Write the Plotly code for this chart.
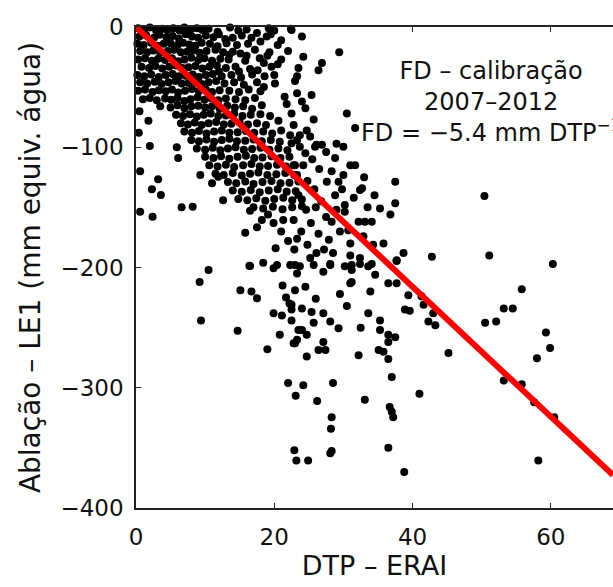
import plotly.graph_objects as go

# ---------------- data ----------------
# dense upper-left cluster (DTP, ablation)
cluster_top = [
    (0.3,-1),(1.2,-2),(2.0,-0.5),(2.9,-3),(3.8,-1.5),(4.5,-2.5),(5.4,-1),(6.3,-3),(7.0,-0.5),(7.9,-2),(8.8,-1),(9.6,-2.5),(10.5,-1.5),(13.6,-0.5),(16.0,-2),(19.2,-1),(20.0,-3),(22.4,-1.5),
    (0.5,-8),(1.5,-7),(2.6,-9),(3.4,-6.5),(4.4,-8.5),(5.3,-7.5),(6.2,-9.5),(7.2,-6),(8.1,-8),(9.0,-9),(10.1,-7),(11.2,-8.5),(12.0,-6),(14.0,-9),(15.3,-7),
    (0.2,-14),(1.1,-15),(2.2,-13),(3.1,-15.5),(4.0,-14),(5.0,-13.5),(6.0,-15),(6.8,-13),(7.7,-14.5),(8.6,-15.5),(9.5,-13),(10.7,-14),(11.8,-16),(13.1,-13.5),(14.6,-15),(16.2,-14),(18.0,-12),(20.5,-15),
    (0.6,-20),(1.6,-21),(2.5,-19.5),(3.5,-21.5),(4.6,-20),(5.5,-19),(6.5,-21),(7.4,-20.5),(8.3,-19.5),(9.2,-21.5),(10.2,-20),(11.5,-19),(12.6,-21),(14.0,-20.5),(15.1,-22),(17.2,-19),(19.3,-21),
    (0.3,-27),(1.3,-26),(2.3,-28),(3.2,-26.5),(4.2,-27.5),(5.2,-26),(6.1,-28.5),(7.0,-27),(8.0,-25.5),(9.0,-27.5),(9.9,-26),(11.0,-28),(12.2,-26.5),(13.4,-27),(15.8,-28),(17.9,-26),(21.0,-27),
    (0.8,-33),(1.9,-34),(2.8,-32.5),(3.8,-34.5),(4.8,-33),(5.8,-32),(6.7,-34),(7.6,-33.5),(8.6,-32.5),(9.6,-34.5),(10.6,-33),(11.7,-32),(13.0,-34),(14.4,-33),(16.5,-35),(19.6,-33),
    (0.2,-40),(1.2,-41),(2.2,-39.5),(3.3,-41.5),(4.3,-40),(5.3,-39),(6.2,-41),(7.2,-40.5),(8.2,-39.5),(9.1,-41.5),(10.1,-40),(11.1,-39),(12.4,-41),(13.8,-40),(15.2,-42),(16.8,-39.5),(18.6,-41),
    (0.6,-46),(1.6,-47),(2.7,-45.5),(3.7,-47.5),(4.7,-46),(5.7,-45),(6.6,-47),(7.6,-46.5),(8.6,-45.5),(9.5,-47.5),(10.5,-46),(11.6,-45),(12.8,-47),(14.2,-46),(15.6,-48),(17.5,-46),(20.1,-47),
    (0.3,-53),(1.3,-52),(2.4,-54),(3.3,-52.5),(4.3,-53.5),(5.2,-52),(6.1,-54.5),(7.1,-53),(8.1,-51.5),(9.1,-53.5),(10.1,-52),(11.0,-54),(12.1,-52.5),(13.5,-53),(14.9,-54),(16.3,-52),(18.0,-53.5),
    (1.0,-60),(2.0,-59),(3.0,-61),(4.2,-59.5),(5.1,-60.5),(6.0,-59),(7.0,-61.5),(7.9,-60),(8.9,-58.5),(9.9,-60.5),(10.8,-59),(11.9,-61),(13.0,-59.5),(14.4,-60),(15.8,-61),(17.2,-59),
    (11.8,-4),(14.8,-3),(17.5,-5),(12.9,-10),(16.7,-9),(18.9,-8),(13.5,-23),(16.0,-24),(18.5,-30),(12.0,-37),(14.9,-37),(17.6,-36),
]

# dense band along the trend
cluster_band = [
    (3.5,-66),(5.0,-67),(6.0,-65),(7.0,-67.5),(8.0,-66),(9.0,-65.5),(10.0,-67),(11.0,-66),(12.1,-68),(13.2,-65.5),(14.3,-67),(15.5,-66),(16.8,-68),(18.2,-65),
    (5.8,-73),(6.8,-74),(7.8,-72.5),(8.8,-74.5),(9.8,-73),(10.8,-72),(11.9,-74),(13.0,-73.5),(14.2,-72),(15.4,-74),(16.6,-73),(18.0,-72.5),(19.4,-74),
    (6.5,-80),(7.5,-81),(8.5,-79.5),(9.5,-81.5),(10.5,-80),(11.6,-79),(12.7,-81),(13.8,-80.5),(15.0,-79.5),(16.2,-81),(17.5,-80),(18.8,-81.5),
    (7.0,-87),(8.1,-88),(9.1,-86.5),(10.2,-88.5),(11.3,-87),(12.4,-86),(13.5,-88),(14.7,-87.5),(15.9,-86.5),(17.1,-88),(18.4,-87),(19.7,-88.5),(21.0,-86),
    (8.0,-94),(9.1,-95),(10.2,-93.5),(11.3,-95.5),(12.4,-94),(13.5,-93),(14.6,-95),(15.8,-94.5),(17.0,-93.5),(18.2,-95),(19.5,-94),(20.8,-95.5),
    (8.8,-101),(10.0,-102),(11.1,-100.5),(12.2,-102.5),(13.3,-101),(14.4,-100),(15.6,-102),(16.8,-101.5),(18.0,-100.5),(19.3,-102),(20.6,-101),(21.9,-102.5),
    (10.0,-108),(11.2,-109),(12.3,-107.5),(13.5,-109.5),(14.7,-108),(15.9,-107),(17.1,-109),(18.3,-108.5),(19.6,-107.5),(20.9,-109),(22.2,-108),
    (10.6,-115),(11.8,-116),(13.0,-114.5),(14.2,-116.5),(15.5,-115),(16.7,-114),(17.9,-116),(19.1,-115.5),(20.4,-114.5),(21.7,-116),(23.0,-115),
    (11.5,-122),(12.7,-123),(14.0,-121.5),(15.3,-123.5),(16.5,-122),(17.7,-121),(19.0,-123),(20.3,-122.5),(21.6,-121.5),(22.9,-123),
    (13.3,-129),(14.5,-130),(15.8,-128.5),(17.0,-130.5),(18.3,-129),(19.6,-128),(20.9,-130),(22.2,-129.5),(23.5,-128.5),
    (14.0,-136),(15.3,-137),(16.6,-135.5),(17.9,-137.5),(19.2,-136),(20.5,-135),(21.8,-137),(23.1,-136.5),
    (14.8,-143),(16.1,-144),(17.4,-142.5),(18.7,-144.5),(20.0,-143),(21.3,-142),(22.6,-144),(24.0,-143.5),
    (17.0,-150),(18.4,-151),(19.8,-149.5),(21.2,-151.5),(22.6,-150),(24.0,-149),
]

# points above / right of the band, upper part
upper_scatter = [
    (22.5,-2.5),(24.0,-8),(24.2,-24.7),(29.4,-21),(26.9,-30),(26.4,-36),(23.5,-34),(23.3,-41),(23.0,-45),
    (23.3,-55),(25.4,-56.5),(24.0,-62),(24.5,-67.6),(22.5,-72),(25.7,-77),(30.5,-72),(31.7,-84),(22.8,-81.5),
    (24.7,-86),(23.7,-90),(25.2,-91),(23.3,-94),(26.1,-98),(30.0,-99.5),(19.5,-6),(21.0,-11),(19.0,-24),
    (20.5,-31),(18.5,-50),(21.5,-58),(20.0,-40),(22.0,-20),(21.8,-64),(20.6,-78),(22.3,-90),
]

# middle part of the cloud
middle_scatter = [
    (22.5,-96.7),(23.7,-99.5),(25.9,-99.5),(26.9,-98),(22.8,-115),(24.2,-115),(28.8,-109),(31.0,-115),(31.7,-115),
    (28.3,-120),(30.0,-123),(23.3,-123),(32.4,-135.5),(32.7,-134),(37.5,-128.6),(35.3,-151),(36.8,-156),(37.5,-146.6),
    (27.6,-128.6),(29.3,-128.6),(28.8,-140),(30.2,-148),(30.2,-153.6),(29.0,-152),(32.2,-162),(33.1,-162),(34.1,-162),
    (30.7,-169),(32.9,-174),(34.3,-181),(35.8,-180),(31.0,-180),(28.5,-188),(31.0,-190),(32.4,-192),(28.1,-198),
    (37.7,-194),(38.7,-188),(42.8,-191),(33.6,-199),(25.2,-192),(26.1,-188),(23.7,-199),
    (24.5,-105),(25.5,-110),(26.5,-118),(24.8,-128),(25.8,-135),(23.5,-140),(26.8,-145),(24.6,-152),(27.5,-158),
    (25.3,-163),(23.9,-170),(26.4,-172),(27.9,-177),(24.8,-181),(22.9,-185),(27.2,-185),(29.5,-170),(28.3,-162),
    (26.0,-150),(29.8,-135),(31.5,-142),(33.5,-150),(34.5,-140),(33.0,-125),(27.5,-104),(29.0,-97),
    (15.8,-171),(16.5,-152.8),(17.5,-166.6),(18.2,-160.5),(19.1,-156),(19.9,-163),(21.3,-160.5),(22.8,-160.5),
    (21.0,-170),(22.0,-178),(20.2,-184),(23.3,-176),
]

# lower part of the cloud
lower_scatter = [
    (23.0,-198),(25.7,-198),(28.1,-197),(30.2,-199),(31.2,-198),(32.4,-197),(34.1,-197),(37.7,-194.6),(23.3,-205),
    (27.1,-203.5),(31.2,-202),(31.0,-213),(31.2,-212),(34.6,-206),(36.5,-213),(37.7,-213),(33.9,-220),(23.0,-219),
    (24.5,-216),(39.4,-223),(41.3,-224),(41.6,-231),(38.9,-235),(39.6,-236),(43.0,-238),(42.3,-245),(43.3,-248),
    (33.6,-238),(35.3,-244),(35.3,-252),(36.5,-256),(37.5,-258),(36.5,-262),(22.5,-231),(24.0,-234),(25.4,-237),
    (27.1,-238),(28.1,-245),(29.3,-250.5),(25.7,-246),(22.5,-244),(24.0,-252),(24.7,-256),(23.3,-260),(22.8,-263),
    (27.1,-262),(27.4,-268.6),(26.4,-268.6),(32.2,-273),(35.1,-268.6),(35.8,-270),(36.5,-276),(45.2,-271),(24.7,-274),
    (37.0,-291),(24.2,-298),(28.5,-296),(22.0,-296),(23.1,-306.6),(26.2,-311),(33.1,-310),(41.0,-305),
    (36.7,-316),(37.0,-320),(37.2,-324.6),(28.3,-324.6),(28.2,-334),(22.9,-352),(23.2,-360.6),(24.9,-360.6),
    (28.3,-352.6),(28.1,-354.5),(36.5,-350),(38.8,-370),
    (16.4,-198.5),(15.1,-219),(16.7,-220),(17.5,-225.6),(21.2,-215),(21.7,-225),(22.2,-230),(22.5,-235),
    (19.9,-238),(21.1,-240),(20.8,-256),(23.0,-263),(23.5,-252),(18.4,-196),(19.9,-200.7),(20.4,-198),(22.3,-198),
    (16.5,-198.7),(14.7,-252.5),(19.0,-268),(26.0,-226),(29.5,-222),(30.5,-232),(32.5,-250),
]

# sparse points far left and far right
outliers = [
    (0.5,-70),(1.8,-78),(0.4,-88),(2.0,-99),(5.9,-100),(6.1,-109),(0.6,-120),(3.2,-126.7),(9.3,-123),
    (2.3,-135),(3.6,-139.7),(6.6,-150),(8.2,-149.4),(0.6,-153.6),(2.4,-157.7),(12.6,-144),(11.0,-130),(11.9,-124.5),
    (10.5,-202),(9.2,-212),(9.4,-244),
    (50.4,-140.5),(51.1,-190),(60.3,-197),(55.8,-218),(53.2,-234),(54.5,-234),(50.5,-246),(52.1,-245),
    (59.3,-254),(59.9,-267),(58.0,-275.5),(55.8,-297),(53.2,-294),(57.6,-312),(60.5,-324.6),(58.2,-360.6),
]

FIT_SLOPE = -5.4          # mm per DTP
X_RANGE = [0, 69.0]
Y_RANGE = [-400, 0]
X_TICKS = [0, 20, 40, 60]
Y_TICKS = [-400, -300, -200, -100, 0]

# ---------------- figure ----------------
all_pts = cluster_top + cluster_band + upper_scatter + middle_scatter + lower_scatter + outliers
dtp = [p[0] for p in all_pts]
abl = [p[1] for p in all_pts]

fit_x = X_RANGE
fit_y = [FIT_SLOPE * v for v in fit_x]

FONT = "DejaVu Sans"

fig = go.Figure()
fig.add_trace(go.Scatter(
    x=dtp, y=abl, mode="markers",
    marker=dict(size=8, color="black", line=dict(width=0)),
    cliponaxis=False, showlegend=False, hoverinfo="skip",
))
fig.add_trace(go.Scatter(
    x=fit_x, y=fit_y, mode="lines",
    line=dict(color="#ff0000", width=6),
    cliponaxis=True, showlegend=False, hoverinfo="skip",
))

fig.update_layout(
    width=613, height=587,
    margin=dict(l=136, r=0, t=27, b=79),
    paper_bgcolor="white", plot_bgcolor="white",
    font=dict(family=FONT, color="#111111"),
    xaxis=dict(
        range=X_RANGE, tickvals=X_TICKS, ticktext=[str(v) for v in X_TICKS],
        showgrid=False, zeroline=False, showline=True, linecolor="#222222", linewidth=1.5,
        mirror="ticks", ticks="inside", ticklen=5, tickcolor="#222222",
        tickfont=dict(family=FONT, size=23, color="#111111"),
        ticklabelstandoff=8,
        title=dict(text="DTP – ERAI", font=dict(family=FONT, size=27, color="#111111"), standoff=6),
    ),
    yaxis=dict(
        range=Y_RANGE, tickvals=Y_TICKS,
        showgrid=False, zeroline=False, showline=True, linecolor="#222222", linewidth=1.5,
        mirror=False, ticks="inside", ticklen=5, tickcolor="#222222",
        tickfont=dict(family=FONT, size=23, color="#111111"),
        ticklabelstandoff=6,
        title=dict(text="Ablação – LE1 (mm equiv. água)", font=dict(family=FONT, size=28, color="#111111"), standoff=12),
    ),
    annotations=[dict(
        text="FD – calibração<br>2007–2012<br>FD = −5.4 mm DTP<sup>−1</sup>",
        xref="paper", yref="paper", x=0.744, y=0.844,
        xanchor="center", yanchor="middle", align="center", showarrow=False,
        font=dict(family=FONT, size=24, color="#111111"),
    )],
)

fig.write_html("out.html")
